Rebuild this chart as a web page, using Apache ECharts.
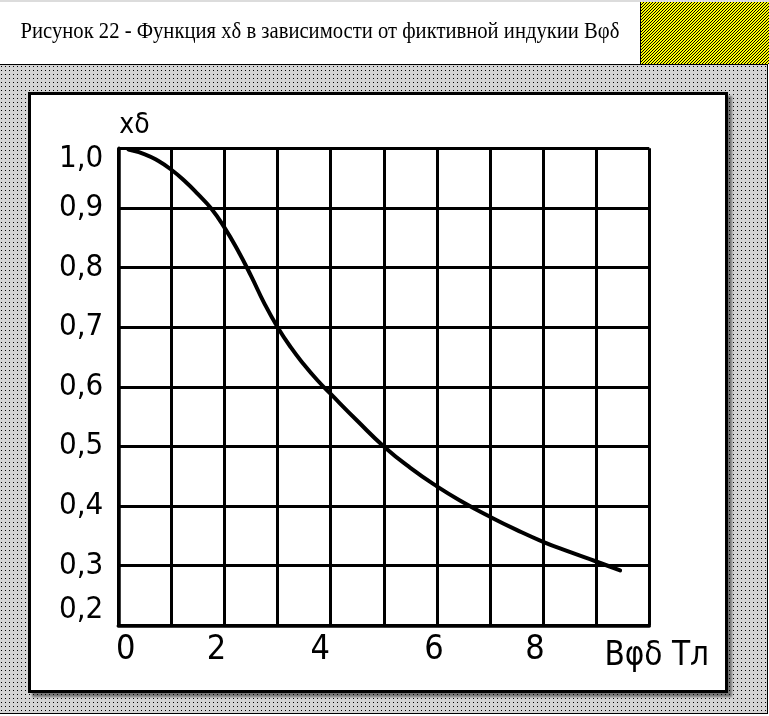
<!DOCTYPE html>
<html>
<head>
<meta charset="utf-8">
<script src="https://cdn.jsdelivr.net/npm/echarts@6/dist/echarts.min.js"></script>
<style>
  html, body { margin:0; padding:0; width:769px; height:716px; overflow:hidden; background:#fff; }
  .abs { position:absolute; box-sizing:border-box; }
  #topstrip { left:0; top:0; width:769px; height:2px; background:#dcdcdc; }
  #titlebox { left:0; top:2px; width:640px; height:62px; background:#fff; }
  #hatch { left:640px; top:2px; width:129px; height:62px; border-left:1px solid #000; background-color:#ffff00; }
  #bg { left:-1px; top:64px; width:769px; height:650px; border:1px solid #000; background-color:#d4d4d4; }
  #panel { left:28px; top:92px; width:700px; height:601px; border:3px solid #000; background:#fff;
    box-shadow: 4px 4px 2px rgba(0,0,0,0.45); }
  #chart { left:0; top:0; width:769px; height:716px; z-index:5; }
</style>
</head>
<body>
<div id="topstrip" class="abs"></div>
<div id="titlebox" class="abs"></div>
<div id="hatch" class="abs"></div>
<div id="bg" class="abs"></div>
<div id="panel" class="abs"></div>
<div id="chart" class="abs"></div>
<script>
// ---- data ----
const titleText = 'Рисунок 22 - Функция xδ в зависимости от фиктивной индукии Bφδ';
const xAxisName = 'Bφδ Тл';
const yAxisName = 'xδ';
const xTickLabels = [0, 2, 4, 6, 8];
const xValues = [0.19, 0.5, 0.75, 1, 1.25, 1.5, 1.75, 2, 2.25, 2.5, 2.75, 3, 3.25, 3.5, 3.75, 4, 4.5, 5, 5.5, 6, 6.5, 7, 7.5, 8, 8.5, 9, 9.45];
const yValues = [0.998, 0.990, 0.979, 0.964, 0.945, 0.923, 0.899, 0.867, 0.829, 0.786, 0.740, 0.700, 0.666, 0.637, 0.611, 0.588, 0.543, 0.500, 0.464, 0.433, 0.406, 0.382, 0.360, 0.340, 0.323, 0.307, 0.292];

// ---- background patterns ----
(function(){
  const c = document.createElement('canvas'); c.width = 4; c.height = 4;
  const g = c.getContext('2d');
  g.fillStyle = '#d4d4d4'; g.fillRect(0,0,4,4);
  g.fillStyle = '#000'; g.fillRect(1,1,1,1);
  document.getElementById('bg').style.backgroundImage = 'url(' + c.toDataURL() + ')';
  const h = document.createElement('canvas'); h.width = 3; h.height = 3;
  const k = h.getContext('2d');
  k.fillStyle = '#ffff00'; k.fillRect(0,0,3,3);
  k.fillStyle = '#000'; k.fillRect(2,0,1,1); k.fillRect(1,1,1,1); k.fillRect(0,2,1,1);
  document.getElementById('hatch').style.backgroundImage = 'url(' + h.toDataURL() + ')';
})();

const FONT = '"DejaVu Sans Condensed", "DejaVu Sans", sans-serif';
const titleFont = '22.7px "Liberation Serif", "Times New Roman", serif';
const titleTargetWidth = 599;
const mc = document.createElement('canvas').getContext('2d');
mc.font = titleFont;
const titleScale = titleTargetWidth / mc.measureText(titleText).width;

const xRichPad = { 0:[0,0,0,15], 2:[0,16,0,0], 4:[0,21,0,0], 6:[0,6,0,0], 8:[0,16,0,0] };
const xRich = {};
xTickLabels.forEach(v => {
  xRich['l' + v] = { fontFamily: FONT, fontSize: 34, lineHeight: 34, color: '#000', padding: xRichPad[v] };
});
const yLabelStyle = { fontFamily: FONT, fontSize: 31, lineHeight: 31, color: '#000' };

const chart = echarts.init(document.getElementById('chart'), null, { renderer: 'canvas' });
chart.setOption({
  animation: false,
  backgroundColor: 'transparent',
  graphic: [{
    type: 'text', x: 20.5, y: 32.5, scaleX: titleScale,
    style: { text: titleText, font: titleFont, fill: '#000', verticalAlign: 'middle' }
  }],
  grid: { left: 118.3, top: 148.3, width: 531, height: 477, show: false },
  xAxis: {
    type: 'value', min: 0, max: 10, interval: 1,
    name: xAxisName, nameLocation: 'end', nameGap: 7.4,
    nameTextStyle: { fontFamily: FONT, fontSize: 33, lineHeight: 34, color: '#000', align: 'center', verticalAlign: 'top', padding: [14,0,0,0] },
    axisLine: { show: true, onZero: false, lineStyle: { color: '#000', width: 3.5 } },
    axisTick: { show: false },
    splitLine: { show: true, lineStyle: { color: '#000', width: 3 } },
    axisLabel: {
      margin: 8,
      formatter: v => xTickLabels.includes(v) ? '{l' + v + '|' + v + '}' : '',
      rich: xRich
    }
  },
  yAxis: {
    type: 'value', min: 0.2, max: 1.0, interval: 0.1,
    name: yAxisName, nameLocation: 'end', nameGap: 23,
    nameTextStyle: { fontFamily: FONT, fontSize: 28, color: '#000', align: 'left', verticalAlign: 'middle', padding: [0,0,0,1] },
    axisLine: { show: true, onZero: false, lineStyle: { color: '#000', width: 3.5 } },
    axisTick: { show: false },
    splitLine: { show: true, lineStyle: { color: '#000', width: 3 } },
    axisLabel: {
      margin: 15,
      formatter: v => {
        const s = v.toFixed(1).replace('.', ',');
        if (Math.abs(v - 1) < 1e-9) return '{top|' + s + '}';
        if (Math.abs(v - 0.2) < 1e-9) return '{bot|' + s + '}';
        return '{n|' + s + '}';
      },
      rich: {
        n: yLabelStyle,
        top: Object.assign({}, yLabelStyle, { padding: [22,0,0,0] }),
        bot: Object.assign({}, yLabelStyle, { padding: [0,0,30,0] })
      }
    }
  },
  series: [{
    type: 'line',
    data: xValues.map((x, i) => [x, yValues[i]]),
    smooth: 0.5,
    showSymbol: false,
    symbol: 'none',
    lineStyle: { color: '#000', width: 4, cap: 'round' },
    z: 10
  }]
});
</script>
</body>
</html>
